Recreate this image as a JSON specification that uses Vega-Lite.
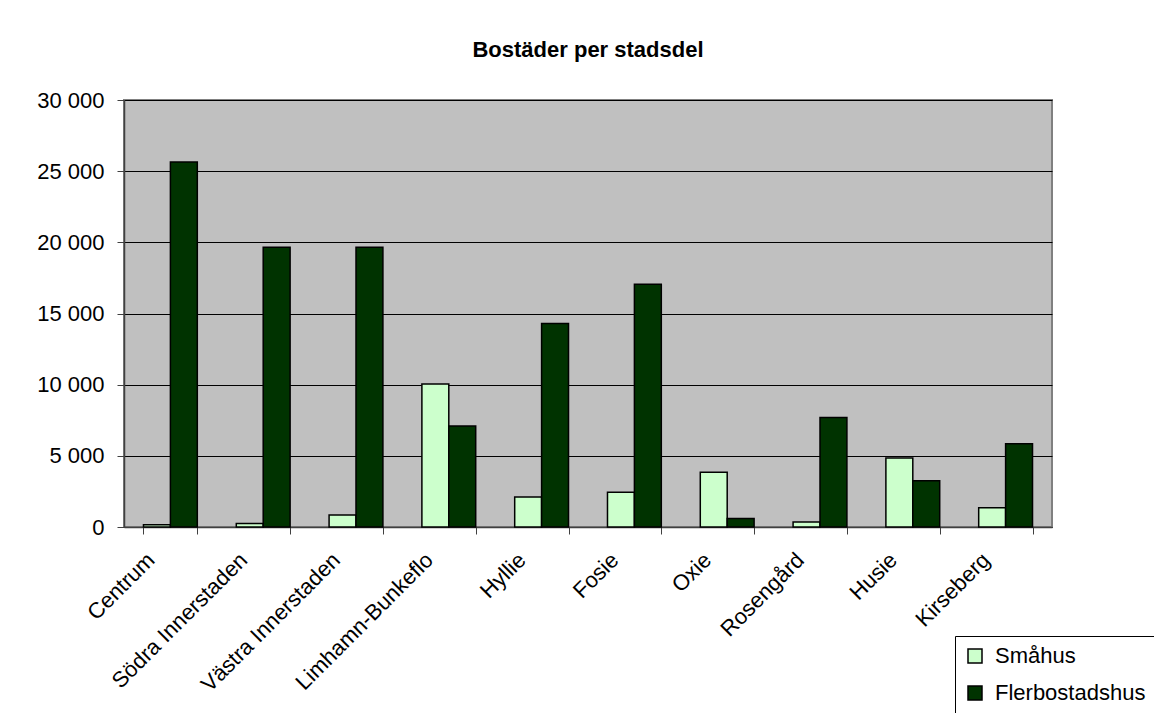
{
  "$schema": "https://vega.github.io/schema/vega-lite/v6.json",
  "width": 928,
  "height": 427,
  "autosize": {"type": "none"},
  "padding": {"left": 124, "top": 100, "right": 102, "bottom": 186},
  "background": "white",
  "title": {
    "text": "Bostäder per stadsdel",
    "font": "Liberation Sans",
    "fontSize": 22,
    "fontWeight": "bold",
    "color": "black",
    "anchor": "middle",
    "baseline": "alphabetic",
    "offset": 10
  },
  "data": {
    "values": [
      {"stadsdel": "Centrum", "typ": "Småhus", "antal": 150},
      {"stadsdel": "Centrum", "typ": "Flerbostadshus", "antal": 25650},
      {"stadsdel": "Södra Innerstaden", "typ": "Småhus", "antal": 250},
      {"stadsdel": "Södra Innerstaden", "typ": "Flerbostadshus", "antal": 19650},
      {"stadsdel": "Västra Innerstaden", "typ": "Småhus", "antal": 850},
      {"stadsdel": "Västra Innerstaden", "typ": "Flerbostadshus", "antal": 19650},
      {"stadsdel": "Limhamn-Bunkeflo", "typ": "Småhus", "antal": 10050},
      {"stadsdel": "Limhamn-Bunkeflo", "typ": "Flerbostadshus", "antal": 7100},
      {"stadsdel": "Hyllie", "typ": "Småhus", "antal": 2100},
      {"stadsdel": "Hyllie", "typ": "Flerbostadshus", "antal": 14300},
      {"stadsdel": "Fosie", "typ": "Småhus", "antal": 2450},
      {"stadsdel": "Fosie", "typ": "Flerbostadshus", "antal": 17050},
      {"stadsdel": "Oxie", "typ": "Småhus", "antal": 3850},
      {"stadsdel": "Oxie", "typ": "Flerbostadshus", "antal": 600},
      {"stadsdel": "Rosengård", "typ": "Småhus", "antal": 350},
      {"stadsdel": "Rosengård", "typ": "Flerbostadshus", "antal": 7700},
      {"stadsdel": "Husie", "typ": "Småhus", "antal": 4850},
      {"stadsdel": "Husie", "typ": "Flerbostadshus", "antal": 3250},
      {"stadsdel": "Kirseberg", "typ": "Småhus", "antal": 1350},
      {"stadsdel": "Kirseberg", "typ": "Flerbostadshus", "antal": 5850}
    ]
  },
  "mark": {"type": "bar", "stroke": "black", "strokeWidth": 1.5},
  "encoding": {
    "x": {
      "field": "stadsdel",
      "type": "nominal",
      "sort": null,
      "scale": {"paddingInner": 0.42, "paddingOuter": 0.21},
      "axis": {
        "title": null,
        "labelAngle": -45,
        "labelAlign": "right",
        "labelBaseline": "top",
        "labelFont": "Liberation Sans",
        "labelFontSize": 22,
        "labelColor": "black",
        "labelPadding": 15,
        "labelOffset": -27,
        "labelLimit": 0,
        "labelOverlap": false,
        "tickBand": "extent",
        "tickSize": 7,
        "tickColor": "#404040",
        "domainColor": "#404040",
        "domainWidth": 1.5
      }
    },
    "xOffset": {
      "field": "typ",
      "type": "nominal",
      "sort": ["Småhus", "Flerbostadshus"],
      "scale": {"paddingInner": 0, "paddingOuter": 0}
    },
    "y": {
      "field": "antal",
      "type": "quantitative",
      "scale": {"domain": [0, 30000], "nice": false},
      "axis": {
        "title": null,
        "values": [0, 5000, 10000, 15000, 20000, 25000, 30000],
        "labelExpr": "replace(format(datum.value, ','), ',', ' ')",
        "labelFont": "Liberation Sans",
        "labelFontSize": 22,
        "labelColor": "black",
        "labelPadding": 13,
        "tickSize": 7,
        "tickColor": "#404040",
        "domainColor": "#404040",
        "domainWidth": 1.5,
        "grid": true,
        "gridColor": "black",
        "gridWidth": 1
      }
    },
    "fill": {
      "field": "typ",
      "type": "nominal",
      "sort": ["Småhus", "Flerbostadshus"],
      "scale": {"domain": ["Småhus", "Flerbostadshus"], "range": ["#CCFFCC", "#003300"]},
      "legend": {
        "title": null,
        "orient": "none",
        "legendX": 831,
        "legendY": 536,
        "direction": "vertical",
        "symbolType": "square",
        "symbolSize": 196,
        "symbolStrokeColor": "black",
        "symbolStrokeWidth": 1.5,
        "labelFont": "Liberation Sans",
        "labelFontSize": 22,
        "labelColor": "black",
        "labelOffset": 9,
        "rowPadding": 15,
        "padding": 9,
        "strokeColor": "black",
        "fillColor": "white"
      }
    }
  },
  "config": {
    "view": {"fill": "#C0C0C0", "stroke": "#808080", "strokeWidth": 2},
    "font": "Liberation Sans"
  }
}
